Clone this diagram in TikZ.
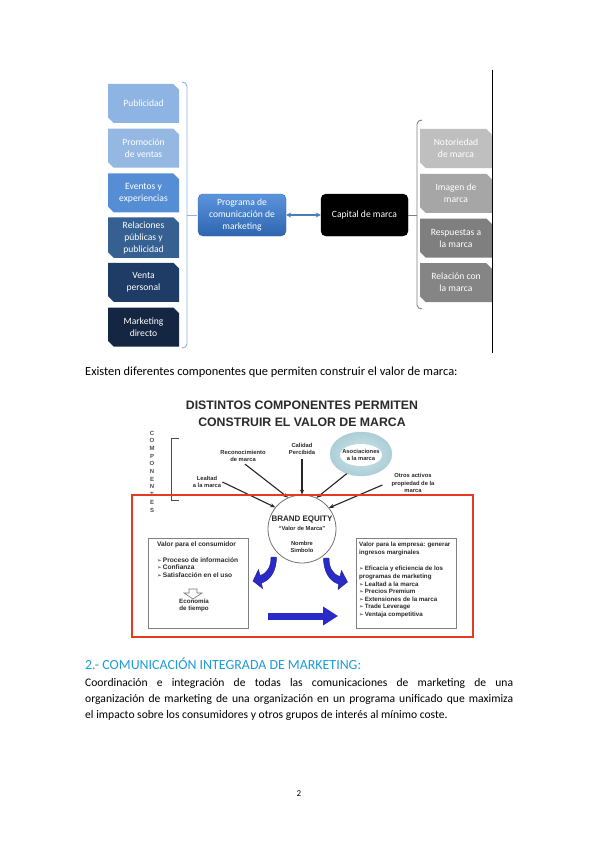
\documentclass[tikz,border=0pt]{standalone}
\usepackage{fontspec}
\setmainfont{Carlito}
\newfontfamily\arialf{Liberation Sans}
\newfontfamily\symf{DejaVu Sans}
\usetikzlibrary{shapes.misc,shapes.geometric,arrows.meta,calc}
\definecolor{cPub}{HTML}{8DB4E2}
\definecolor{cProm}{HTML}{95B8E3}
\definecolor{cEve}{HTML}{558ED5}
\definecolor{cRel}{HTML}{366092}
\definecolor{cVen}{HTML}{1F3C66}
\definecolor{cMkt}{HTML}{142641}
\definecolor{cProgT}{HTML}{5A94DC}
\definecolor{cProgB}{HTML}{2F65B0}
\definecolor{cProg}{HTML}{3F7BC9}
\definecolor{gA}{HTML}{BFBFBF}
\definecolor{gB}{HTML}{A6A6A6}
\definecolor{gC}{HTML}{7F7F7F}
\definecolor{gD}{HTML}{858585}
\definecolor{brL}{HTML}{8DB3E2}
\definecolor{redF}{HTML}{E53A21}
\definecolor{blueA}{HTML}{2A2AC8}
\definecolor{headC}{HTML}{1C9CD8}
\definecolor{ringC}{HTML}{B4D3DC}
\definecolor{txtD}{HTML}{2A2A2A}
\newcommand{\bul}{{\symf\fontsize{5.5}{6}\selectfont ➢}\,}
\begin{document}
\begin{tikzpicture}[x=1pt,y=-1pt,
  lb/.style={chamfered rectangle, chamfered rectangle corners={north east,south west},
    chamfered rectangle xsep=2.5pt, minimum width=71pt, minimum height=39pt, inner sep=1pt,
    text=white, align=center, font=\fontsize{9.6}{12}\selectfont},
  rb/.style={lb, minimum width=72pt},
  rbox/.style={rounded corners=5pt, minimum width=88pt, minimum height=42pt, align=center,
    text=white, font=\fontsize{9.6}{12}\selectfont, inner sep=1pt},
  lab/.style={font=\arialf\bfseries\fontsize{5.8}{7.6}\selectfont, text=txtD, align=center, inner sep=1pt},
  btxt/.style={font=\arialf\bfseries\fontsize{6.6}{7.6}\selectfont, text=txtD, align=left, inner sep=0pt, anchor=north west},
  arr/.style={-{Stealth[length=5pt,width=4pt]}, line width=1.1pt, black!85},
  bshape/.style={fill=blueA, draw=blueA!70!black, line width=0.4pt},
  gbox/.style={draw=black!50, line width=0.8pt, fill=white, minimum width=100pt, minimum height=90pt, anchor=north west, inner sep=0pt}
]
\useasboundingbox (0,0) rectangle (599,848);
\fill[white] (0,0) rectangle (599,848);

% ---------- top diagram ----------
\node[lb, fill=cPub]  (pub) at (143.5,103.5) {Publicidad};
\node[lb, fill=cProm] (pro) at (143.5,148.2) {Promoción\\de ventas};
\node[lb, fill=cEve]  (eve) at (143.5,192.9) {Eventos y\\experiencias};
\node[lb, fill=cRel]  (rel) at (143.5,237.6) {Relaciones\\públicas y\\publicidad};
\node[lb, fill=cVen]  (ven) at (143.5,282.3) {Venta\\personal};
\node[lb, fill=cMkt]  (mkt) at (143.5,327.0) {Marketing\\directo};

\draw[brL, line width=0.9pt] (182,82) to[out=0,in=90] (187,86) -- (187,344) to[out=-90,in=0] (182,348);
\draw[brL, line width=0.9pt] (187,215) -- (197,215);

\node[rbox, top color=cProgT, bottom color=cProgB, draw=cProgB] (prog) at (242,215) {Programa de\\comunicación de\\marketing};
\node[rbox, fill=black, draw=black, minimum width=87pt] (cap) at (364.5,215) {Capital de marca};
\draw[{Stealth[length=5pt,width=5pt]}-{Stealth[length=5pt,width=5pt]}, line width=1.3pt, color=cProg!80!gray] (prog.east) -- (cap.west);

\coordinate (rbr) at (417,215);
\draw[gray, line width=0.9pt] (cap.east) -- (rbr);
\draw[gray, line width=0.9pt] (422,120) to[out=180,in=90] (417,124) -- (417,305) to[out=-90,in=180] (422,309);

\node[rb, fill=gA] (not) at (456,148.5) {Notoriedad\\de marca};
\node[rb, fill=gB] (ima) at (456,193.3) {Imagen de\\marca};
\node[rb, fill=gC] (res) at (456,238.0) {Respuestas a\\la marca};
\node[rb, fill=gD] (rcm) at (456,282.6) {Relación con\\la marca};
\draw[black, line width=1.3pt] (492.5,70) -- (492.5,353);

\node[anchor=base west, inner sep=0pt, font=\fontsize{12.4}{14}\selectfont] (exist) at (85,375.5)
  {Existen diferentes componentes que permiten construir el valor de marca:};

% ---------- second diagram ----------
\node[font=\arialf\bfseries\fontsize{12.3}{17}\selectfont, text=txtD, align=center] (title) at (302,413.5)
  {DISTINTOS COMPONENTES PERMITEN\\CONSTRUIR EL VALOR DE MARCA};
\node[font=\arialf\bfseries\fontsize{6}{7.7}\selectfont, text=black!70, align=center, inner sep=0pt] (comp) at (152,471.5)
  {C\\O\\M\\P\\O\\N\\E\\N\\T\\E\\S};
\draw[black!70, line width=0.8pt] (179,438) -- (171,438) -- (171,500) -- (179,500);

\node[circle, draw=black!55, line width=0.8pt, fill=white, minimum size=68pt, inner sep=0pt] (be) at (302,529) {};
\node[font=\arialf\bfseries\fontsize{8}{9}\selectfont, text=txtD, inner sep=0pt] (bet) at (302,519) {BRAND EQUITY};
\node[lab] (vdm) at (302,528) {“Valor de Marca”};
\node[lab] (nom) at (302,547) {Nombre\\Simbolo};

\node[ellipse, minimum width=62pt, minimum height=44pt, inner sep=0pt, shading=radial, inner color=ringC!60, outer color=ringC!95!teal, draw=ringC!80!black!60, line width=0.3pt] (ring) at (361,454) {};
\fill[white] (361,455) ellipse [x radius=21pt, y radius=11pt];
\node[lab] (aso) at (361,455) {Asociaciones\\a la marca};
\node[lab] (reco) at (243,456) {Reconocimiento\\de marca};
\node[lab] (cal) at (302,449) {Calidad\\Percibida};
\node[lab] (leal) at (207,482) {Lealtad\\a la marca};
\node[lab] (otros) at (413,483) {Otros activos\\propiedad de la\\marca};

\draw[arr] (reco.south) ++(2,1) -- (be.114);
\draw[arr] (cal.south) ++(0,3) -- (be.90);
\draw[arr] (ring.-126) -- (be.65);
\draw[arr] (leal.east) -- (be.141);
\draw[arr] (otros.west) ++(-8,2) -- (be.38);

\node[gbox] (lv) at (148,538) {};
\node[gbox] (rv) at (356,538) {};
\node[btxt] (lvt) at (157,542) {Valor para el consumidor\\[7.5pt]\bul Proceso de información\\\bul Confianza\\\bul Satisfacción en el uso};
\draw[black!55, line width=0.6pt, fill=white] (189,589) -- (197,589) -- (197,593) -- (202,593) -- (193,599) -- (184,593) -- (189,593) -- cycle;
\node[lab, font=\arialf\bfseries\fontsize{6.2}{7.4}\selectfont] (eco) at (194,605.5) {Economía\\de tiempo};
\node[btxt, font=\arialf\bfseries\fontsize{6.2}{7.6}\selectfont] (rvt) at (359,542) {Valor para la empresa: generar\\ingresos marginales\\[9pt]\bul Eficacia y eficiencia de los\\programas de marketing\\\bul Lealtad a la marca\\\bul Precios Premium\\\bul Extensiones de la marca\\\bul Trade Leverage\\\bul Ventaja competitiva};

% curved blue arrows
\path[bshape] (271,557) .. controls (271,566) and (268,573) .. (260,575.5) -- (258.5,569.5) -- (253,581) -- (262.5,588.5) -- (261.5,583) .. controls (271,580) and (276.5,570) .. (276.5,557) -- cycle;
\path[bshape] (329,558) .. controls (329,567) and (332,574) .. (340,576.5) -- (341.5,570.5) -- (347.5,582) -- (338,589.5) -- (338.5,584) .. controls (329,581) and (323.5,571) .. (323.5,558) -- cycle;
\coordinate (bs0) at (268,616);
\coordinate (bs1) at (338,616);
\draw[line width=7pt, blueA, -{Triangle[width=18pt,length=15pt]}] (bs0) -- (bs1);

\draw[redF, line width=2pt] (132,495) rectangle (473,637);

% ---------- bottom text ----------
\node[anchor=base west, inner sep=0pt, text=headC, font=\fontsize{13.9}{15}\selectfont] (head) at (85,669.5)
  {2.- COMUNICACIÓN INTEGRADA DE MARKETING:};
\node[anchor=north west, inner sep=0pt, text width=428pt, align=justify, font=\fontsize{11.6}{16}\selectfont] (para) at (85,678)
  {\hyphenpenalty=10000 Coordinación e integración de todas las comunicaciones de marketing de una\linebreak organización de marketing de una organización en un programa unificado que maximiza\linebreak el impacto sobre los consumidores y otros grupos de interés al mínimo coste.};
\node[font=\fontsize{9}{10}\selectfont, inner sep=0pt] (pg) at (299,794) {2};
\end{tikzpicture}
\end{document}
